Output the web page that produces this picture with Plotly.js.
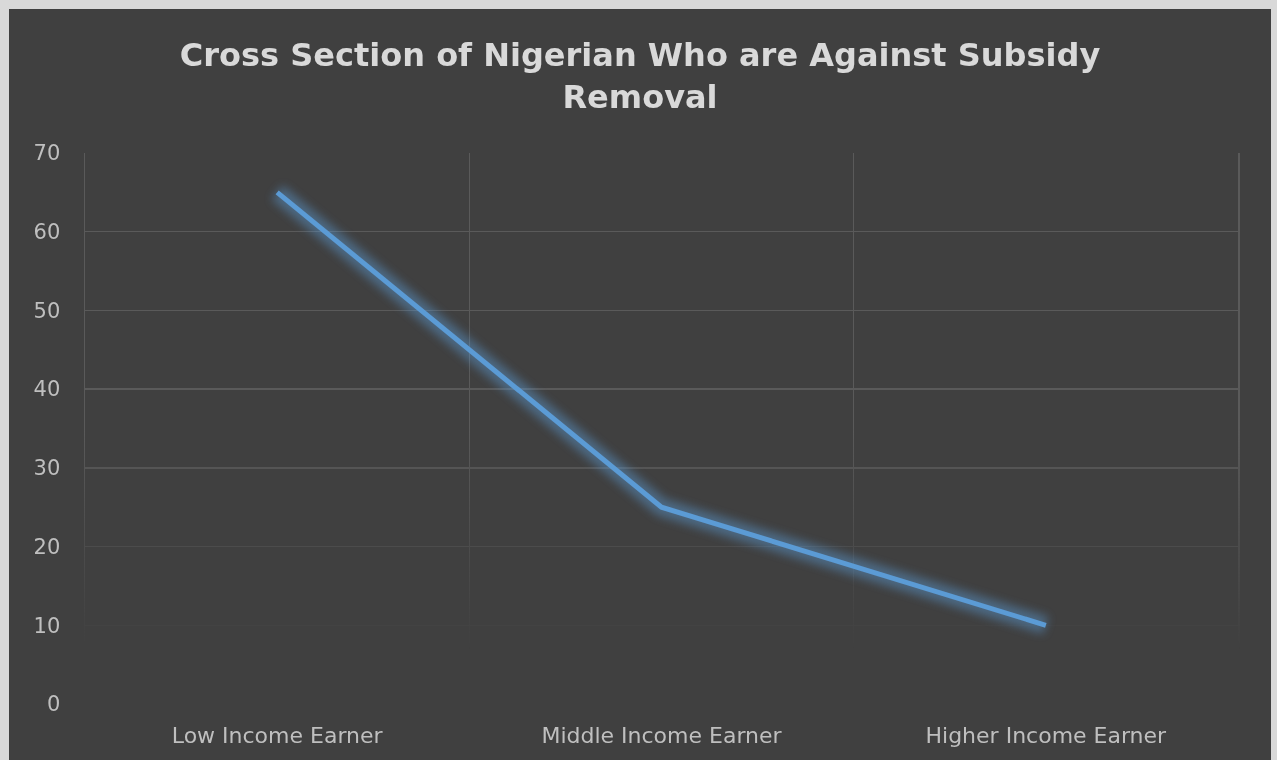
<!DOCTYPE html>
<html>
<head>
<meta charset="utf-8">
<script src="https://cdn.plot.ly/plotly-3.0.1.min.js"></script>
<style>
  html, body { margin: 0; padding: 0; background: #d9d9d9; width: 1277px; height: 760px; overflow: hidden; }
  #chart { position: absolute; left: 9px; top: 9px; width: 1262px; height: 751px; }
</style>
</head>
<body>
<div id="chart"></div>
<script>
const categories = ["Low Income Earner", "Middle Income Earner", "Higher Income Earner"];
const againstRemoval = [65, 25, 10];
const yTicks = [0, 10, 20, 30, 40, 50, 60, 70];

const lineColor = "#5b9bd5";

const traces = [
  { // soft glow under the line (blurred after drawing)
    type: "scatter", mode: "lines",
    x: categories, y: againstRemoval,
    line: { color: lineColor, width: 18 },
    opacity: 0.45, hoverinfo: "skip", showlegend: false
  },
  {
    type: "scatter", mode: "lines",
    x: categories, y: againstRemoval,
    line: { color: lineColor, width: 5 },
    showlegend: false
  }
];

const layout = {
  width: 1262, height: 751,
  paper_bgcolor: "#404040", plot_bgcolor: "#404040",
  margin: { l: 76, r: 33, t: 144, b: 56 },
  font: { family: "DejaVu Sans, sans-serif", color: "#bfbfbf", size: 21 },
  title: {
    text: "<b>Cross Section of Nigerian Who are Against Subsidy<br>Removal</b>",
    font: { family: "DejaVu Sans, sans-serif", size: 32, color: "#d9d9d9" },
    x: 0.5, xanchor: "center", y: 0.924, yanchor: "top", yref: "container"
  },
  xaxis: {
    type: "category", range: [-0.5, 2.5], tickson: "boundaries",
    showgrid: true, gridcolor: "#5a5a5a", gridwidth: 1.5,
    showline: false, zeroline: false, ticks: "", ticklabelstandoff: 16,
    tickfont: { size: 22, color: "#bfbfbf" }, fixedrange: true
  },
  yaxis: {
    range: [0, 70], tickvals: yTicks, ticktext: yTicks.map(String),
    showgrid: true, gridcolor: "#5a5a5a", gridwidth: 1.5,
    showline: true, mirror: true, linecolor: "#5a5a5a", linewidth: 1.5,
    zeroline: false, ticks: "", ticklabelstandoff: 19,
    tickfont: { size: 21, color: "#bfbfbf" }, fixedrange: true
  },
  showlegend: false
};

const gd = document.getElementById("chart");
Plotly.newPlot(gd, traces, layout, { displayModeBar: false, staticPlot: true }).then(() => {
  const ns = "http://www.w3.org/2000/svg";
  const svg = gd.querySelector("svg.main-svg");
  let defs = svg.querySelector("defs");
  if (!defs) { defs = document.createElementNS(ns, "defs"); svg.insertBefore(defs, svg.firstChild); }
  const pl = gd._fullLayout._size;
  const W = gd._fullLayout.width, H = gd._fullLayout.height;

  // fade the grid toward the bottom of the plot area
  const grad = document.createElementNS(ns, "linearGradient");
  grad.setAttribute("id", "gridFadeU");
  grad.setAttribute("gradientUnits", "userSpaceOnUse");
  grad.setAttribute("x1", 0); grad.setAttribute("x2", 0);
  grad.setAttribute("y1", pl.t); grad.setAttribute("y2", pl.t + pl.h);
  [[0, "#fff"], [0.5, "#fff"], [0.9, "#000"], [1, "#000"]].forEach(([o, c]) => {
    const s = document.createElementNS(ns, "stop");
    s.setAttribute("offset", o); s.setAttribute("stop-color", c);
    grad.appendChild(s);
  });
  defs.appendChild(grad);
  const mask = document.createElementNS(ns, "mask");
  mask.setAttribute("id", "gridMask");
  mask.setAttribute("maskUnits", "userSpaceOnUse");
  mask.setAttribute("x", 0); mask.setAttribute("y", 0);
  mask.setAttribute("width", W); mask.setAttribute("height", H);
  const r = document.createElementNS(ns, "rect");
  r.setAttribute("x", 0); r.setAttribute("y", 0);
  r.setAttribute("width", W); r.setAttribute("height", H);
  r.setAttribute("fill", "url(#gridFadeU)");
  mask.appendChild(r);
  defs.appendChild(mask);
  svg.querySelectorAll(".gridlayer, .overlines-above, .overlines-below, .xlines-above, .ylines-above").forEach(el => {
    el.setAttribute("mask", "url(#gridMask)");
  });

  // blur the glow trace
  const filt = document.createElementNS(ns, "filter");
  filt.setAttribute("id", "glowBlur");
  filt.setAttribute("filterUnits", "userSpaceOnUse");
  filt.setAttribute("x", 0); filt.setAttribute("y", 0);
  filt.setAttribute("width", W); filt.setAttribute("height", H);
  const blur = document.createElementNS(ns, "feGaussianBlur");
  blur.setAttribute("stdDeviation", "5");
  filt.appendChild(blur);
  defs.appendChild(filt);
  const tr = svg.querySelectorAll(".scatterlayer .trace");
  if (tr.length) tr[0].setAttribute("filter", "url(#glowBlur)");
});
</script>
</body>
</html>
